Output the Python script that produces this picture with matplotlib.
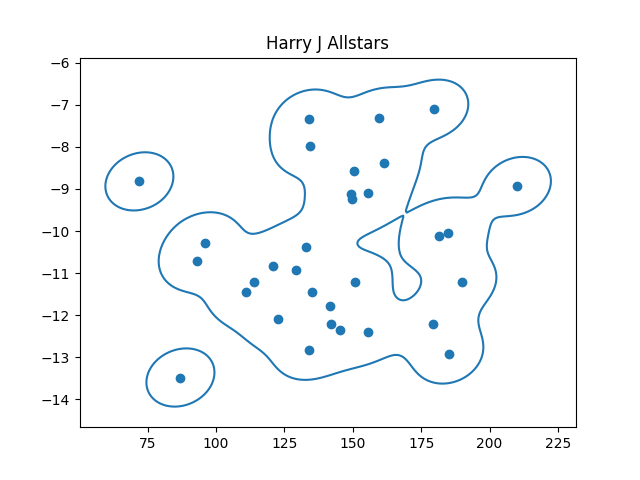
import numpy as np
import matplotlib.pyplot as plt

x = [72, 134, 134.2, 159.7, 179.8, 210, 150.6, 161.6, 149.5, 149.8, 155.7, 181.5, 184.9, 96, 93, 133,
     121, 129.4, 111, 114, 135, 151, 190, 141.5, 122.5, 142, 145.5, 155.5, 179.5, 134, 185, 87]
y = [-8.82, -7.34, -7.98, -7.31, -7.1, -8.93, -8.57, -8.38, -9.12, -9.24, -9.09, -10.12, -10.04, -10.28, -10.7, -10.37,
     -10.82, -10.92, -11.46, -11.22, -11.46, -11.22, -11.22, -11.77, -12.08, -12.2, -12.36, -12.4, -12.2, -12.82, -12.93, -13.48]
title = "Harry J Allstars"
bw = 0.25
level_frac = 0.30


def kde(px, py, gx, gy):
    pts = np.array([px, py])
    cov = np.cov(pts) * bw ** 2
    inv = np.linalg.inv(cov)
    dx = gx[..., None] - pts[0]
    dy = gy[..., None] - pts[1]
    d2 = inv[0, 0] * dx ** 2 + 2 * inv[0, 1] * dx * dy + inv[1, 1] * dy ** 2
    return np.exp(-d2 / 2).sum(axis=-1)


gx, gy = np.meshgrid(np.linspace(40, 240, 300), np.linspace(-16, -5, 300))
z = kde(x, y, gx, gy)

plt.scatter(x, y)
plt.contour(gx, gy, z, levels=[level_frac], colors="tab:blue")
plt.title(title)
plt.xlim(50.3, 231.6)
plt.ylim(-14.66, -5.88)
plt.savefig("out.png", dpi=100)
